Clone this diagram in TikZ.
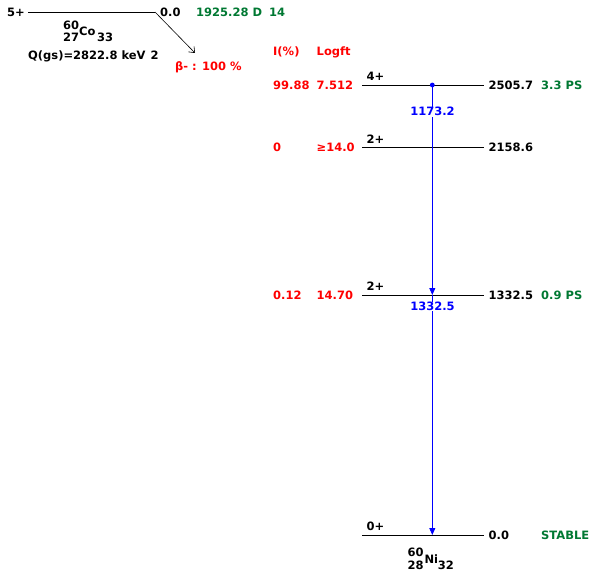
\documentclass[tikz,border=0pt]{standalone}
\usepackage{fontspec}
\setmainfont{DejaVu Sans}
\usetikzlibrary{arrows.meta}
\definecolor{lvred}{RGB}{255,0,0}
\definecolor{lvgreen}{RGB}{0,120,50}
\definecolor{lvblue}{RGB}{0,0,255}
\begin{document}
\begin{tikzpicture}[x=1pt,y=-1pt,
  txt/.style={inner sep=0pt,anchor=base west,font=\fontsize{11.5pt}{13pt}\selectfont\bfseries},
  rtxt/.style={txt,text=lvred},
  gtxt/.style={txt,text=lvgreen},
  glabel/.style={inner sep=0.6pt,anchor=base,fill=white,text=lvblue,font=\fontsize{11.5pt}{13pt}\selectfont\bfseries},
  level/.style={line width=0.8pt,black},
  gam/.style={line width=0.8pt,lvblue,-{Triangle[length=7pt,width=6pt]}},
  decay/.style={line width=0.6pt,black,-{Straight Barb[length=5pt,width=8pt]}}]
\useasboundingbox (0,0) rectangle (593,572);
% parent
\coordinate (pL) at (28,12);
\coordinate (pR) at (155,12);
\draw[level] (pL) -- (pR);
\node[txt] (p5) at (7,16.5) {5+};
\node[txt] (p00) at (160,16.5) {0.0};
\node[gtxt] (phl) at (196,16.5) {1925.28 D\hspace{7pt}14};
\node[txt] (coA) at (63,29.5) {60};
\node[txt] (coZ) at (63,42) {27};
\node[txt] (coS) at (79,35.5) {Co};
\node[txt] (coN) at (97,42) {33};
\node[txt] (qgs) at (28,59.5) {Q(gs)=2822.8 keV\hspace{5pt}2};
\coordinate (bEnd) at (195,53);
\draw[decay] (pR) -- (bEnd);
\node[rtxt] (beta) at (175,71) {β- : 100 \%};
\node[rtxt] (hI) at (273,55.5) {I(\%)};
\node[rtxt] (hL) at (316.5,55.5) {Logft};
% level 2505.7
\coordinate (aL) at (362,85); \coordinate (aR) at (484,85); \coordinate (aG) at (432.3,85);
\draw[level] (aL) -- (aR);
\node[txt] (ajp) at (366.5,80.7) {4+};
\node[txt] (aen) at (488.5,89.4) {2505.7};
\node[rtxt] (aii) at (273,89.4) {99.88};
\node[rtxt] (alf) at (316.5,89.4) {7.512};
\node[gtxt] (ahl) at (541,89.4) {3.3 PS};
% level 2158.6
\coordinate (bL) at (362,147.3); \coordinate (bR) at (484,147.3);
\draw[level] (bL) -- (bR);
\node[txt] (bjp) at (366.5,143) {2+};
\node[txt] (ben) at (488.5,151.7) {2158.6};
\node[rtxt] (bii) at (273,151.7) {0};
\node[rtxt] (blf) at (316.5,151.7) {≥14.0};
% level 1332.5
\coordinate (cL) at (362,295); \coordinate (cR) at (484,295); \coordinate (cG) at (432.3,295);
\draw[level] (cL) -- (cR);
\node[txt] (cjp) at (366.5,290.7) {2+};
\node[txt] (cen) at (488.5,299.4) {1332.5};
\node[rtxt] (cii) at (273,299.4) {0.12};
\node[rtxt] (clf) at (316.5,299.4) {14.70};
\node[gtxt] (chl) at (541,299.4) {0.9 PS};
% level 0
\coordinate (dL) at (362,535); \coordinate (dR) at (484,535); \coordinate (dG) at (432.3,535);
\draw[level] (dL) -- (dR);
\node[txt] (djp) at (366.5,530.7) {0+};
\node[txt] (den) at (488.5,539.4) {0.0};
\node[gtxt] (dhl) at (541,539.4) {STABLE};
% gammas
\fill[lvblue] (aG) circle (2.4);
\draw[gam] (aG) -- (cG);
\draw[gam] (cG) -- (dG);
\node[glabel] (g1) at (432.5,116) {1173.2};
\node[glabel] (g2) at (432.5,310.7) {1332.5};
% daughter
\node[txt] (niA) at (407.5,556.7) {60};
\node[txt] (niZ) at (407.5,569.3) {28};
\node[txt] (niS) at (424.3,563) {Ni};
\node[txt] (niN) at (437.7,569.3) {32};
\end{tikzpicture}
\end{document}
